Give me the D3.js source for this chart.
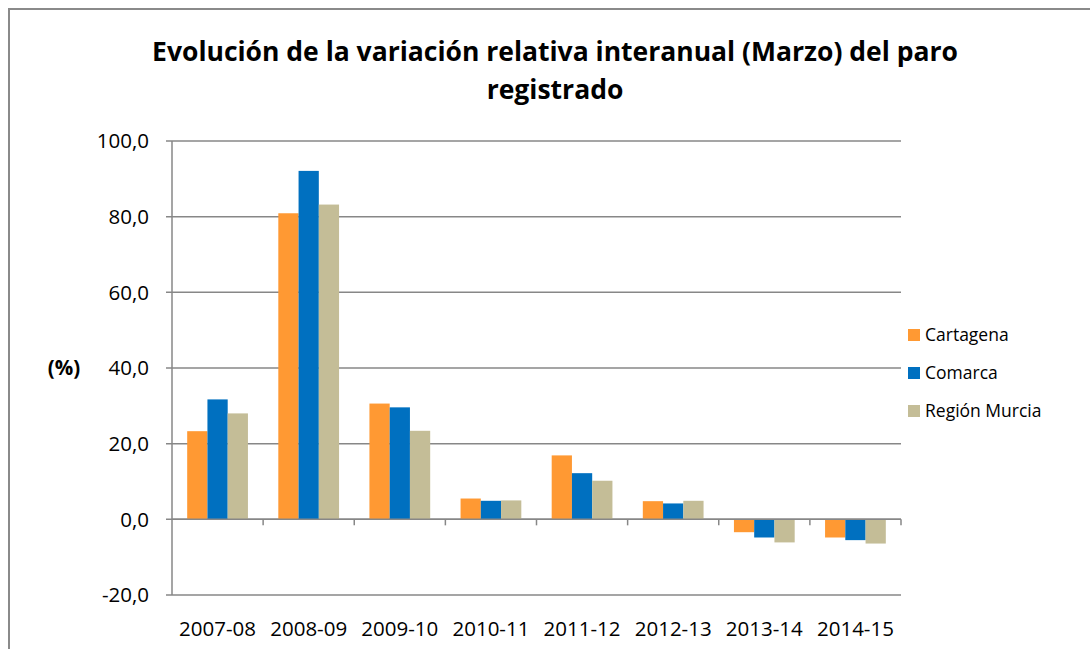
<!DOCTYPE html>
<meta charset="utf-8">
<title>Paro registrado</title>
<style>
  body { margin: 0; background: #fff; }
  text { font-family: "Open Sans", sans-serif; fill: #000; }
  .grid line { stroke: #878787; stroke-width: 1.5px; }
  .title { font-weight: bold; }
</style>
<svg width="1090" height="649"></svg>
<script src="https://d3js.org/d3.v7.min.js"></script>
<script>
  // data
  var years = ["2007-08", "2008-09", "2009-10", "2010-11", "2011-12", "2012-13", "2013-14", "2014-15"];
  var seriesNames = ["Cartagena", "Comarca", "Región Murcia"];
  var cartagena = [23.3, 80.9, 30.6, 5.5, 16.9, 4.8, -3.4, -4.8];
  var comarca = [31.7, 92.1, 29.6, 4.9, 12.2, 4.2, -4.8, -5.5];
  var regionMurcia = [28.0, 83.2, 23.4, 5.0, 10.2, 4.9, -6.1, -6.4];
  var yTicks = [-20, 0, 20, 40, 60, 80, 100];
  var colors = ["#FF9933", "#0070C0", "#C4BD97"];

  var values = [cartagena, comarca, regionMurcia];

  var svg = d3.select("svg");

  // chart frame
  svg.append("path")
    .attr("d", "M9,649V9H1090")
    .attr("fill", "none")
    .attr("stroke", "#8a8a8a")
    .attr("stroke-width", 2);

  var plotLeft = 172, plotRight = 901, plotTop = 141, plotBottom = 595;

  var x0 = d3.scaleBand().domain(years).range([plotLeft, plotRight]);
  var x1 = d3.scaleBand().domain(seriesNames).range([0, x0.bandwidth()]).paddingOuter(0.75);
  var y = d3.scaleLinear().domain([-20, 100]).range([plotBottom, plotTop]);
  var fmt = function (d) { return d3.format(".1f")(d).replace(".", ",").replace("\u2212", "-"); };

  // horizontal gridlines
  var grid = svg.append("g").attr("class", "grid");
  grid.selectAll("line.h")
    .data(yTicks)
    .enter().append("line")
    .attr("x1", plotLeft - 6).attr("x2", plotRight)
    .attr("y1", function (d) { return y(d); })
    .attr("y2", function (d) { return y(d); });

  // bars
  seriesNames.forEach(function (s, i) {
    svg.append("g")
      .selectAll("rect")
      .data(values[i])
      .enter().append("rect")
      .attr("x", function (d, j) { return x0(years[j]) + x1(s); })
      .attr("width", x1.bandwidth())
      .attr("y", function (d) { return y(Math.max(0, d)); })
      .attr("height", function (d) { return Math.abs(y(d) - y(0)); })
      .attr("fill", colors[i]);
  });

  // axis lines + category ticks
  var axes = svg.append("g").attr("class", "grid");
  axes.append("line")
    .attr("x1", plotLeft).attr("x2", plotLeft)
    .attr("y1", plotTop).attr("y2", plotBottom);
  axes.append("line")
    .attr("x1", plotLeft).attr("x2", plotRight)
    .attr("y1", y(0)).attr("y2", y(0));
  axes.selectAll("line.tick")
    .data(years.slice(1).concat(["end"]))
    .enter().append("line")
    .attr("x1", function (d) { return d === "end" ? plotRight : x0(d); })
    .attr("x2", function (d) { return d === "end" ? plotRight : x0(d); })
    .attr("y1", y(0)).attr("y2", y(0) + 6);

  // y tick labels
  svg.append("g").selectAll("text")
    .data(yTicks)
    .enter().append("text")
    .attr("x", 149)
    .attr("y", function (d) { return y(d); })
    .attr("dy", "0.36em")
    .attr("text-anchor", "end")
    .style("font-size", "20.5px")
    .text(fmt);

  // x labels
  svg.append("g").selectAll("text")
    .data(years)
    .enter().append("text")
    .attr("x", function (d) { return x0(d) + x0.bandwidth() / 2; })
    .attr("y", 636)
    .attr("text-anchor", "middle")
    .style("font-size", "20.5px")
    .text(function (d) { return d; });

  // y axis title
  svg.append("text")
    .attr("x", 64).attr("y", y(40))
    .attr("dy", "0.36em")
    .attr("text-anchor", "middle")
    .style("font-size", "20.5px")
    .style("font-weight", "bold")
    .text("(%)");

  // title
  var title = svg.append("text")
    .attr("class", "title")
    .attr("text-anchor", "middle")
    .style("font-size", "26.5px");
  title.append("tspan").attr("x", 555).attr("y", 61)
    .text("Evolución de la variación relativa interanual (Marzo) del paro");
  title.append("tspan").attr("x", 555).attr("y", 99)
    .text("registrado");

  // legend
  var legend = svg.append("g").selectAll("g")
    .data(seriesNames)
    .enter().append("g")
    .attr("transform", function (d, i) { return "translate(908," + (329 + i * 38) + ")"; });
  legend.append("rect")
    .attr("width", 12).attr("height", 12)
    .attr("fill", function (d, i) { return colors[i]; });
  legend.append("text")
    .attr("x", 17).attr("y", 6)
    .attr("dy", "0.36em")
    .style("font-size", "17.5px")
    .text(function (d) { return d; });
</script>
